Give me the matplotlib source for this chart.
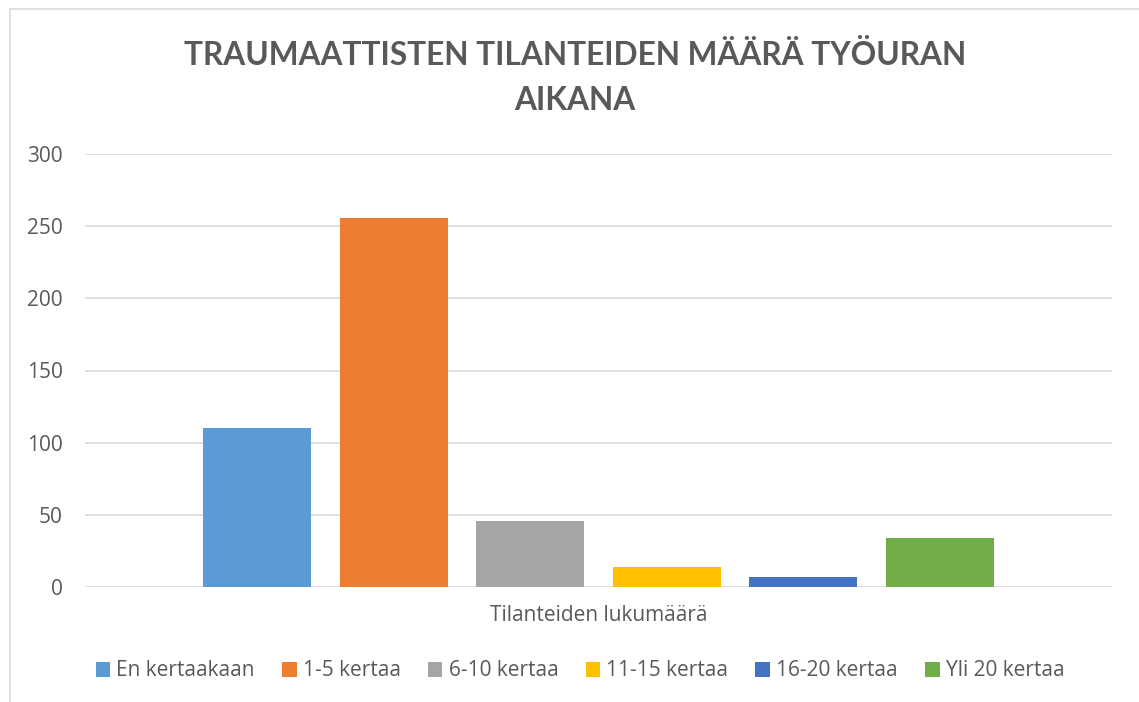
import matplotlib.pyplot as plt
from matplotlib.patches import Rectangle

categories = ["En kertaakaan", "1-5 kertaa", "6-10 kertaa", "11-15 kertaa", "16-20 kertaa", "Yli 20 kertaa"]
values = [110, 256, 46, 14, 7, 34]
colors = ["#5B9BD5", "#ED7D31", "#A5A5A5", "#FFC000", "#4472C4", "#70AD47"]
yticks = [0, 50, 100, 150, 200, 250, 300]

plt.rcParams["font.family"] = ["Open Sans", "DejaVu Sans"]
text_color = "#595959"

fig = plt.figure(figsize=(11.39, 7.02), dpi=100)
ax = fig.add_axes([85 / 1139, 1 - 587 / 702, (1112 - 85) / 1139, (587 - 154) / 702])

fig.patches.append(Rectangle((10 / 1139, -0.01), 1.2, 1 - 9 / 702 + 0.01, transform=fig.transFigure,
                             fill=False, edgecolor="#D9D9D9", linewidth=1.2))

for i, (cat, val, col) in enumerate(zip(categories, values, colors)):
    ax.bar(i, val, width=0.79, color=col, label=cat, zorder=3)

ax.set_xlim(-1.26, 6.26)
ax.set_ylim(0, 300)
ax.set_yticks(yticks)
ax.set_xticks([])
ax.grid(axis="y", color="#D9D9D9", linewidth=1.2, zorder=0)
for s in ax.spines.values():
    s.set_visible(False)
ax.tick_params(axis="y", length=0, pad=16, labelsize=15, labelcolor=text_color)

ax.set_xlabel("Tilanteiden lukumäärä", fontsize=15, color=text_color, labelpad=13)

title_font = ["Lato", "DejaVu Sans"]
fig.text(575 / 1139, 1 - 55 / 702, "TRAUMAATTISTEN TILANTEIDEN MÄÄRÄ TYÖURAN", ha="center", va="center",
         fontsize=22.8, fontweight="bold", color=text_color, family=title_font)
fig.text(575 / 1139, 1 - 101 / 702, "AIKANA", ha="center", va="center",
         fontsize=22.8, fontweight="bold", color=text_color, family=title_font)

leg = fig.legend(loc="center", bbox_to_anchor=(580 / 1139, 1 - 671 / 702), ncol=6, frameon=False,
                 fontsize=15, handlelength=0.7, handleheight=0.7, handletextpad=0.3, columnspacing=1.3)
for t in leg.get_texts():
    t.set_color(text_color)

fig.savefig("out.png", dpi=100)
